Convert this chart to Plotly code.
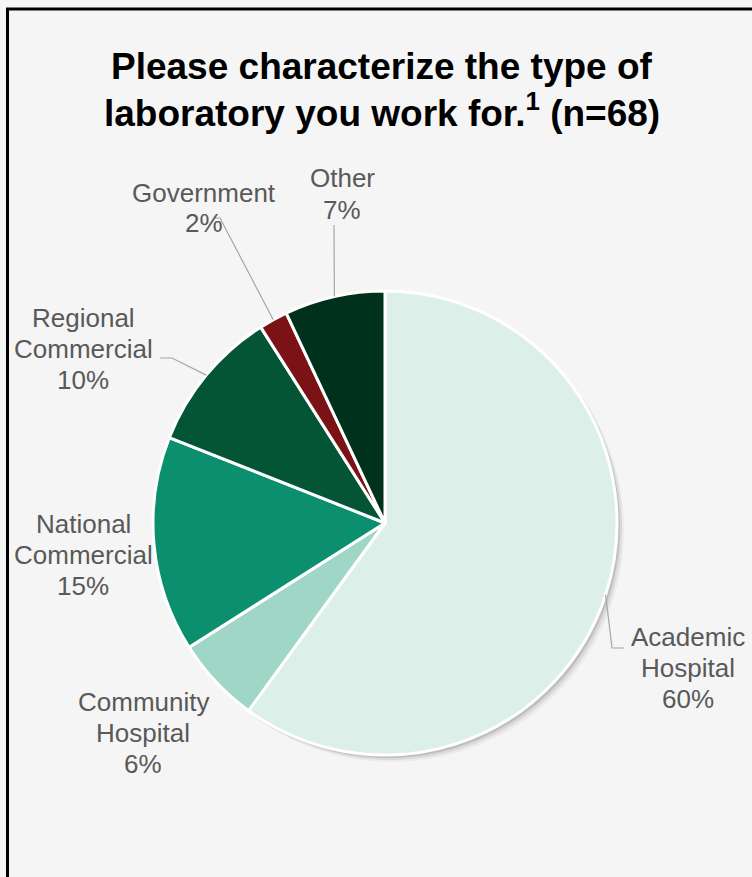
import math
import plotly.graph_objects as go

# Survey responses: type of laboratory (n=68)
labels = ["Academic Hospital", "Community Hospital", "National Commercial",
          "Regional Commercial", "Government", "Other"]
label_lines = [["Academic", "Hospital"], ["Community", "Hospital"], ["National", "Commercial"],
               ["Regional", "Commercial"], ["Government"], ["Other"]]
values = [60, 6, 15, 10, 2, 7]
colors = ["#dcefe9", "#9fd6c6", "#0c8f6f", "#045535", "#7b1215", "#00311c"]
title_lines = ["<b>Please characterize the type of</b>",
               "<b>laboratory you work for.<sup>1</sup> (n=68)</b>"]

W, H = 752, 877
CX, CY, R = 385, 523, 232          # pie centre and radius in pixels
LINE_GAP = 31                      # label line spacing in pixels
FONT = "Liberation Sans, Arial"


def px(x):
    return x / W


def py(y):
    return 1 - y / H


# label block centres (pixels) and optional leader-line elbow for each slice
label_pos = {
    "Academic Hospital": (688, 668),
    "Community Hospital": (143, 733),
    "National Commercial": (83, 555),
    "Regional Commercial": (83, 349),
    "Government": (204, 208),
    "Other": (342, 194),
}
leader_elbow = {
    "Academic Hospital": [(612, 648), (624, 648)],
    "Regional Commercial": [(172, 358), (160, 358)],
    "Government": [(220, 218), (214, 218)],
    "Other": [(334, 225)],
}

fig = go.Figure()

# soft drop shadow behind the pie
for off, alpha in [(7, 0.04), (5, 0.07), (3, 0.12)]:
    fig.add_trace(go.Pie(
        values=[1], labels=["shadow"], sort=False,
        marker=dict(colors=[f"rgba(0,0,0,{alpha})"], line=dict(width=0)),
        textinfo="none", hoverinfo="skip", showlegend=False,
        domain=dict(x=[px(CX - R + off), px(CX + R + off)],
                    y=[py(CY + R + off), py(CY - R + off)]),
    ))

fig.add_trace(go.Pie(
    labels=labels, values=values, sort=False, direction="clockwise", rotation=0,
    marker=dict(colors=colors, line=dict(color="white", width=3)),
    textinfo="none", hoverinfo="label+percent", showlegend=False,
    domain=dict(x=[px(CX - R), px(CX + R)], y=[py(CY + R), py(CY - R)]),
))

# labels and leader lines, anchored at each slice's mid-angle on the rim
total = sum(values)
cum = 0
shapes = []
annotations = []
for lab, words, v in zip(labels, label_lines, values):
    mid = (cum + v / 2) / total * 2 * math.pi
    cum += v
    ex = CX + R * math.sin(mid)
    ey = CY - R * math.cos(mid)
    lx, ly = label_pos[lab]
    rows = words + [f"{round(v / total * 100)}%"]
    n = len(rows)
    for i, row in enumerate(rows):
        annotations.append(dict(
            x=px(lx), y=py(ly + LINE_GAP * (i - (n - 1) / 2)),
            xref="paper", yref="paper", text=row, showarrow=False,
            xanchor="center", yanchor="middle",
            font=dict(family=FONT, size=26, color="#595959"),
        ))
    if lab in leader_elbow:
        pts = [(ex, ey)] + leader_elbow[lab]
        path = "M " + " L ".join(f"{px(a)},{py(b)}" for a, b in pts)
        shapes.append(dict(type="path", path=path, xref="paper", yref="paper",
                           line=dict(color="#a6a6a6", width=1.2)))

# frame lines along the top and left edges
shapes.append(dict(type="line", xref="paper", yref="paper",
                   x0=px(6), x1=1.0, y0=py(9), y1=py(9),
                   line=dict(color="black", width=3)))
shapes.append(dict(type="line", xref="paper", yref="paper",
                   x0=px(7.5), x1=px(7.5), y0=py(8), y1=0,
                   line=dict(color="black", width=3)))

# two-line bold title
for row, ty in zip(title_lines, [67, 110]):
    annotations.append(dict(
        x=px(382), y=py(ty), xref="paper", yref="paper",
        text=row, showarrow=False, xanchor="center", yanchor="middle",
        font=dict(family=FONT, size=37, color="black"),
    ))

fig.update_layout(
    width=W, height=H,
    margin=dict(l=0, r=0, t=0, b=0),
    paper_bgcolor="#f5f5f5", plot_bgcolor="#f5f5f5",
    shapes=shapes, annotations=annotations,
)

fig.write_html("out.html", config={"displayModeBar": False})
